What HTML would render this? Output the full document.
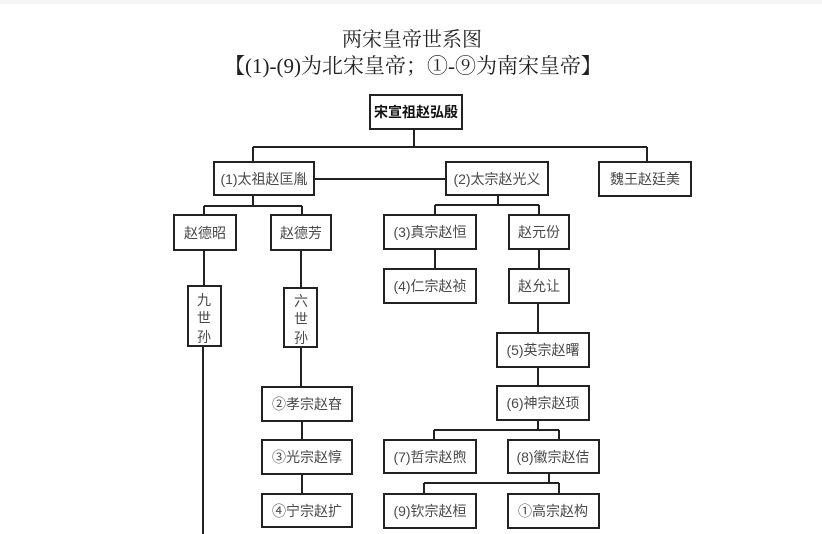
<!DOCTYPE html>
<html><head><meta charset="utf-8">
<style>
html,body{margin:0;padding:0;background:#fff;}
body{width:822px;height:534px;overflow:hidden;position:relative;}
.strip{position:absolute;left:0;top:0;width:822px;height:4px;background:#f4f4f4;}
svg{position:absolute;left:0;top:0;}
.t{font-family:"Liberation Sans","Noto Sans CJK SC",sans-serif;font-size:14px;fill:#4a4a4a;text-anchor:middle;}
.h{font-family:"Liberation Serif","Noto Serif CJK SC",serif;fill:#222;text-anchor:middle;}
</style></head><body>
<div class="strip"></div>
<svg width="822" height="534" viewBox="0 0 822 534">
<g fill="none" stroke="#222" stroke-width="2">
<rect x="370" y="95" width="92" height="34"/>
<rect x="214" y="162" width="100" height="33"/>
<rect x="446" y="162" width="102" height="33"/>
<rect x="599" y="162" width="92" height="34"/>
<rect x="174" y="215" width="62" height="35"/>
<rect x="271" y="215" width="60" height="35"/>
<rect x="384" y="215" width="92" height="34"/>
<rect x="509" y="215" width="60" height="34"/>
<rect x="384" y="269" width="92" height="34"/>
<rect x="509" y="269" width="60" height="34"/>
<rect x="497" y="333" width="92" height="34"/>
<rect x="497" y="386" width="92" height="34"/>
<rect x="384" y="440" width="92" height="33"/>
<rect x="508" y="440" width="91" height="33"/>
<rect x="384" y="494" width="92" height="34"/>
<rect x="508" y="494" width="91" height="34"/>
<rect x="188" y="286" width="33" height="60"/>
<rect x="284" y="288" width="33" height="59"/>
<rect x="262" y="387" width="90" height="34"/>
<rect x="262" y="440" width="90" height="34"/>
<rect x="262" y="494" width="90" height="33"/>
</g>
<g fill="none" stroke="#222" stroke-width="2">
<path d="M414 130V147M253 147H647M253 147V161M647 147V161"/>
<path d="M315 179H445"/>
<path d="M253 196V206M204 206H302M204 206V214M302 206V214"/>
<path d="M498 196V205M435 205H539M435 205V214M539 205V214"/>
<path d="M435 250V268M539 250V268"/>
<path d="M538 304V332M538 368V385"/>
<path d="M538 421V430M434 430H559M434 430V439M559 430V439"/>
<path d="M549 474V483M424 483H559M424 483V493M559 483V493"/>
<path d="M204 251V285M203 347V534"/>
<path d="M301 251V287M301 348V386M302 422V439M302 475V493"/>
</g>
<text class="h" x="412" y="46" font-size="20">两宋皇帝世系图</text>
<text class="h" x="413" y="73" font-size="21"><tspan font-weight="bold">【</tspan>(1)-(9)为北宋皇帝；①-⑨为南宋皇帝<tspan font-weight="bold">】</tspan></text>
<text class="t" x="416" y="117" style="font-weight:bold;fill:#111">宋宣祖赵弘殷</text>
<text class="t" x="264" y="184">(1)太祖赵匡胤</text>
<text class="t" x="497" y="184">(2)太宗赵光义</text>
<text class="t" x="645" y="184">魏王赵廷美</text>
<text class="t" x="205" y="238">赵德昭</text>
<text class="t" x="301" y="238">赵德芳</text>
<text class="t" x="430" y="237">(3)真宗赵恒</text>
<text class="t" x="539" y="237">赵元份</text>
<text class="t" x="430" y="291">(4)仁宗赵祯</text>
<text class="t" x="539" y="291">赵允让</text>
<text class="t" x="543" y="355">(5)英宗赵曙</text>
<text class="t" x="543" y="408">(6)神宗赵顼</text>
<text class="t" x="430" y="462">(7)哲宗赵煦</text>
<text class="t" x="553" y="462">(8)徽宗赵佶</text>
<text class="t" x="430" y="516">(9)钦宗赵桓</text>
<text class="t" x="553" y="516">①高宗赵构</text>
<text class="t" x="204" y="305">九</text>
<text class="t" x="204" y="323">世</text>
<text class="t" x="204" y="342">孙</text>
<text class="t" x="301" y="306">六</text>
<text class="t" x="301" y="324">世</text>
<text class="t" x="301" y="343">孙</text>
<text class="t" x="307" y="409">②孝宗赵昚</text>
<text class="t" x="307" y="462">③光宗赵惇</text>
<text class="t" x="307" y="516">④宁宗赵扩</text>
</svg>
</body></html>
